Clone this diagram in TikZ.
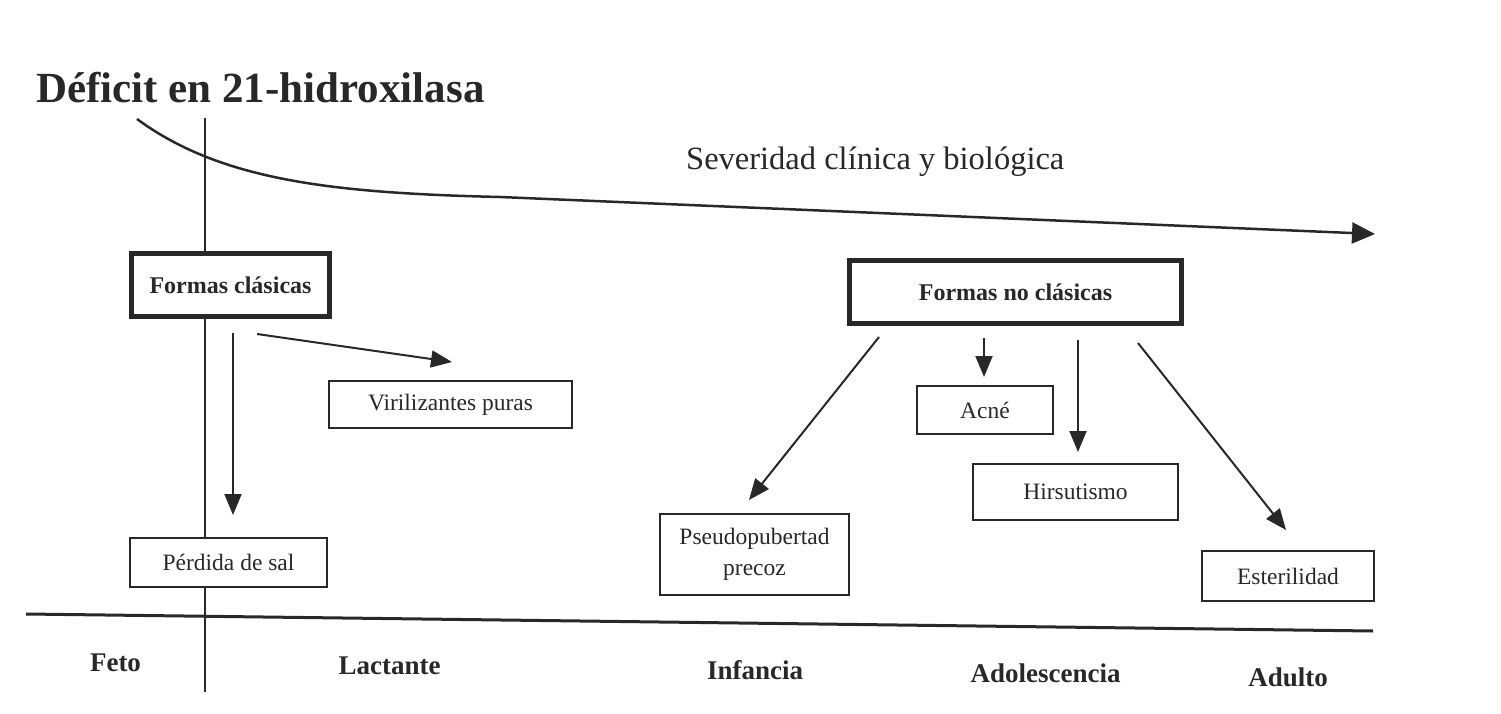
\documentclass[tikz,border=0pt]{standalone}
\usepackage{fontspec}
\setmainfont{Liberation Serif}
\usetikzlibrary{arrows.meta}
\definecolor{ink}{RGB}{40,40,40}
\begin{document}
\begin{tikzpicture}[x=1pt,y=-1pt,
  box/.style={draw=ink, line width=2pt, text=ink, font=\fontsize{23.5}{31}\selectfont, inner sep=0pt, align=center},
  mainbox/.style={box, line width=5pt, font=\bfseries\fontsize{24}{30}\selectfont},
  arr/.style={draw=ink, line width=2pt, -{Triangle[length=21pt,width=17pt]}},
  axisline/.style={draw=ink, line width=2.5pt},
  period/.style={text=ink, font=\bfseries\fontsize{27}{32}\selectfont, anchor=base, inner sep=0pt}]
\useasboundingbox (0,0) rectangle (1501,714);
\fill[white] (0,0) rectangle (1501,714);

% title and severity label
\node[anchor=base west, inner sep=0pt, text=ink, font=\bfseries\fontsize{43}{50}\selectfont] (title) at (36,103) {Déficit en 21-hidroxilasa};
\node[anchor=base west, inner sep=0pt, text=ink, font=\fontsize{32.5}{38}\selectfont] (sev) at (686,170) {Severidad clínica y biológica};

% severity curve
\coordinate (cs) at (137,119);
\coordinate (c1) at (220,180);
\coordinate (c2) at (330,193);
\coordinate (cm) at (500,197);
\coordinate (ce) at (1375,234);
\draw[axisline, -{Triangle[length=23pt,width=21pt]}] (cs) .. controls (c1) and (c2) .. (cm) -- (ce);

% axes
\coordinate (vtop) at (205,118);
\coordinate (vbot) at (205,692);
\draw[axisline, line width=2.2pt] (vtop) -- (vbot);
\coordinate (hl) at (26,614);
\coordinate (hr) at (1373,631);
\draw[axisline, line width=3pt] (hl) -- (hr);

% boxes
\node[mainbox, minimum width=198pt, minimum height=63pt, fill=white] (fc) at (230.5,285) {Formas clásicas};
\node[box, minimum width=243pt, minimum height=47pt] (vp) at (450.5,404.5) {Virilizantes puras};
\node[box, minimum width=197pt, minimum height=49pt, fill=white] (ps) at (228.5,562.5) {Pérdida de sal};
\node[mainbox, minimum width=332pt, minimum height=63pt] (fnc) at (1015.5,292) {Formas no clásicas};
\node[box, minimum width=136pt, minimum height=48pt] (acne) at (985,410) {Acné};
\node[box, minimum width=205pt, minimum height=56pt] (hir) at (1075.5,492) {Hirsutismo};
\node[box, minimum width=172pt, minimum height=50pt] (est) at (1288,576) {Esterilidad};
\node[box, minimum width=189pt, minimum height=81pt] (pp) at (754.5,554.5) {Pseudopubertad\\precoz};

% arrows
\coordinate (a1s) at (233,333); \coordinate (a1e) at (233,515);
\coordinate (a2s) at (257,334); \coordinate (a2e) at (452,362);
\coordinate (a3s) at (879,337); \coordinate (a3e) at (749,500);
\coordinate (a4s) at (984,338); \coordinate (a4e) at (984,377);
\coordinate (a5s) at (1078,340); \coordinate (a5e) at (1078,452);
\coordinate (a6s) at (1138,343); \coordinate (a6e) at (1286,530);
\draw[arr] (a1s) -- (a1e);
\draw[arr] (a2s) -- (a2e);
\draw[arr] (a3s) -- (a3e);
\draw[arr] (a4s) -- (a4e);
\draw[arr] (a5s) -- (a5e);
\draw[arr] (a6s) -- (a6e);

% periods
\node[period] (feto) at (115.5,671) {Feto};
\node[period] (lact) at (389.5,674) {Lactante};
\node[period] (inf) at (755,679) {Infancia};
\node[period] (adol) at (1045.5,682) {Adolescencia};
\node[period] (adul) at (1288,686) {Adulto};
\end{tikzpicture}
\end{document}
